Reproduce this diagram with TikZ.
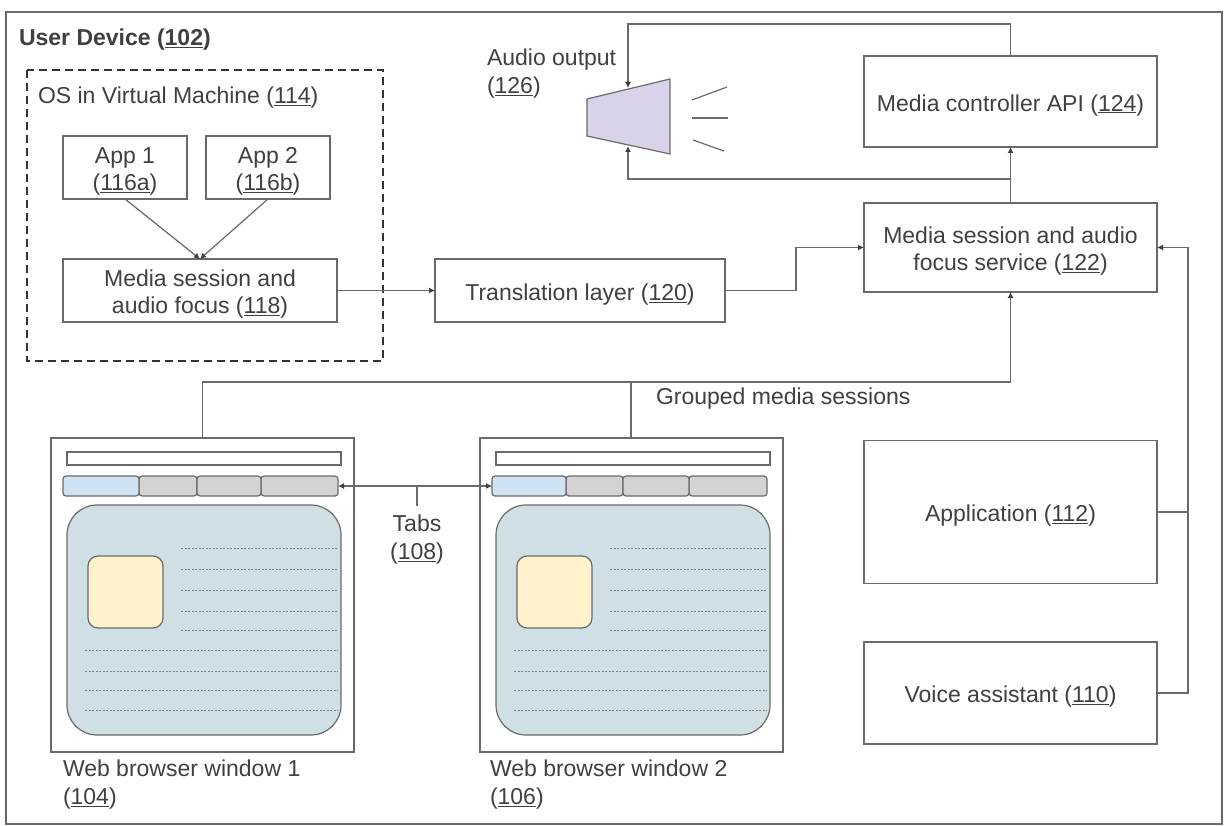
\documentclass[tikz,border=0pt]{standalone}
\usepackage{fontspec}
\setmainfont{Liberation Sans}
\usetikzlibrary{arrows.meta, positioning, calc}
\definecolor{lineGray}{HTML}{6A6A6A}
\definecolor{textGray}{HTML}{404040}
\definecolor{speakerPurple}{HTML}{D9D2E9}
\definecolor{tabBlue}{HTML}{CFE2F3}
\definecolor{tabGray}{HTML}{D3D3D3}
\definecolor{pageTeal}{HTML}{D0DFE3}
\definecolor{iconYellow}{HTML}{FFF2CC}
\newcommand{\refnum}[1]{\underline{#1}}
\newcommand{\topgap}{\rule{0pt}{24pt}}
\tikzset{
    boxnode/.style={draw=lineGray, line width=1.2pt, inner sep=0pt, outer sep=0pt, align=center, text=textGray, font=\fontsize{23}{27.5}\selectfont},
    label/.style={inner sep=0pt, outer sep=0pt, align=left, text=textGray, font=\fontsize{23}{28}\selectfont},
    wire/.style={draw=lineGray, line width=1.2pt},
    arrowwire/.style={wire, -{Latex[length=6pt, width=6pt, color=black!75]}},
    bothwire/.style={wire, {Latex[length=6pt, width=6pt, color=black!75]}-{Latex[length=6pt, width=6pt, color=black!75]}},
    tabnode/.style={draw=lineGray, line width=1.2pt, rounded corners=3pt},
    textline/.style={draw=gray, line width=0.9pt, dash pattern=on 2pt off 1.5pt}
}
% window frame, bars, page and text lines: name, left x, tab edges
\newcommand{\DrawBrowser}[6]{
    \node[boxnode, minimum width=303, minimum height=314, anchor=north west] (#1) at (#2, 438) {};
    \draw[wire, fill=white] (#2+16, 452) rectangle (#2+290, 465);
    \draw[tabnode, fill=tabGray] (#4, 476) rectangle (#5, 496);
    \draw[tabnode, fill=tabGray] (#6, 476) rectangle (#2+287, 496);
    \draw[tabnode, fill=tabGray] (#5, 476) rectangle (#6, 496);
    \draw[tabnode, fill=tabBlue] (#3, 476) rectangle (#4, 496);
    \coordinate (#1tabs) at (#3, 486);
    \coordinate (#1tabsend) at (#2+287, 486);
    \draw[wire, fill=pageTeal, rounded corners=30pt] (#2+16, 505) rectangle (#2+290, 735);
    \draw[wire, fill=iconYellow, rounded corners=10pt] (#2+37, 556) rectangle (#2+112, 628);
    \foreach \y in {548, 569, 590, 611, 630} {
        \draw[textline] (#2+130, \y) -- (#2+287, \y);
    }
    \foreach \y in {650, 671, 690, 710} {
        \draw[textline] (#2+34, \y) -- (#2+287, \y);
    }
}

\begin{document}
\begin{tikzpicture}[x=1pt, y=-1pt]
    \useasboundingbox (0, 0) rectangle (1225, 826);
    \fill[white] (0, 0) rectangle (1225, 826);

    % Device frame and virtual machine
    \draw[draw=lineGray, line width=1.8pt] (6, 12) rectangle (1222, 824);
    \node[label, anchor=west, font=\fontsize{23}{28}\selectfont\bfseries] (devicelabel) at (19, 40) {User Device (\refnum{102})};
    \draw[draw=black!80, line width=1.6pt, dash pattern=on 8pt off 5pt] (27, 70) rectangle (383, 361);
    \node[label, anchor=west] (vmlabel) at (38, 98) {OS in Virtual Machine (\refnum{114})};

    % Boxes
    \node[boxnode, minimum width=124, minimum height=63] (app1) at (125, 167.5) {\topgap App 1\\(\refnum{116a})};
    \node[boxnode, minimum width=124, minimum height=63] (app2) at (268, 167.5) {\topgap App 2\\(\refnum{116b})};
    \node[boxnode, minimum width=274, minimum height=63] (vmfocus) at (200, 290.5) {\topgap Media session and\\audio focus (\refnum{118})};
    \node[boxnode, minimum width=290, minimum height=63] (translation) at (580, 290.5) {\topgap Translation layer (\refnum{120})};
    \node[boxnode, minimum width=293, minimum height=89] (service) at (1010.5, 247.5) {\topgap Media session and audio\\focus service (\refnum{122})};
    \node[boxnode, minimum width=293, minimum height=91] (mediaapi) at (1010.5, 101.5) {\topgap Media controller API (\refnum{124})};
    \node[boxnode, minimum width=293, minimum height=143] (application) at (1010.5, 512) {\topgap Application (\refnum{112})};
    \node[boxnode, minimum width=293, minimum height=102] (voice) at (1010.5, 693) {\topgap Voice assistant (\refnum{110})};

    % Speaker
    \draw[wire, fill=speakerPurple] (587, 99) -- (670, 79) -- (670, 154) -- (587, 136) -- cycle;
    \coordinate (speakertop) at (628, 88);
    \coordinate (speakerbottom) at (628, 146);
    \draw[wire] (692, 100) -- (727, 87);
    \draw[wire] (692, 118) -- (728, 118);
    \draw[wire] (693, 140) -- (724, 151);
    \node[label, anchor=north west] (audiolabel) at (487, 49) {Audio output\\(\refnum{126})};

    % Browser windows
    \DrawBrowser{window1}{51}{63}{139}{197}{261}
    \DrawBrowser{window2}{480}{492}{566}{623}{689}
    \node[label, anchor=north west] (window1label) at (63, 760) {Web browser window 1\\(\refnum{104})};
    \node[label, anchor=north west] (window2label) at (490, 760) {Web browser window 2\\(\refnum{106})};

    % Connectors
    \draw[arrowwire] (app1.south) -- (vmfocus.north);
    \draw[arrowwire] (app2.south) -- (vmfocus.north);
    \draw[arrowwire] (vmfocus.east) -- (translation.west);
    \draw[arrowwire] (translation.east) -- ++(71, 0) |- (service.west);
    \draw[arrowwire] (service.north) -- (mediaapi.south);
    \draw[arrowwire] (service.north) -- ++(0, -24) -| (speakerbottom);
    \draw[arrowwire] (mediaapi.north) -- ++(0, -32) -| (speakertop);
    \coordinate (groupbus) at (631, 382);
    \draw[arrowwire] (window1.north) |- (groupbus) -| (service.south);
    \draw[wire] (groupbus) -- (groupbus |- window2.north);
    \node[label, anchor=west] (grouplabel) at (656, 399) {Grouped media sessions};
    \coordinate (rightbus) at (1188, 512);
    \draw[arrowwire] (voice.east) -| (rightbus) |- (service.east);
    \draw[wire] (application.east) -- (rightbus);

    % Tabs pointer
    \draw[bothwire] (window1tabsend) -- (window2tabs);
    \coordinate (tabsjoin) at (417, 486);
    \node[label, align=center, anchor=north] (tabslabel) at (417, 515) {Tabs\\(\refnum{108})};
    \draw[wire] (tabsjoin) -- ++(0, 20);
\end{tikzpicture}
\end{document}
